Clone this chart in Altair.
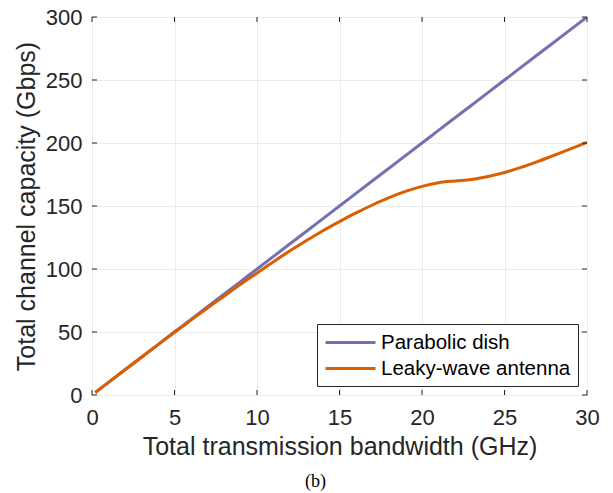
import altair as alt
import pandas as pd

bandwidth = [0.2, 1, 2, 3, 4, 5, 6, 7, 8, 9, 10, 11, 12, 13, 14, 15, 16, 17, 18, 19,
             20, 21, 22, 23, 24, 25, 26, 27, 28, 29, 30]
parabolic = [2, 10, 20, 30, 40, 50, 60, 70, 80, 90, 100, 110, 120, 130, 140, 150, 160, 170,
             180, 190, 200, 210, 220, 230, 240, 250, 260, 270, 280, 290, 300]
leaky = [2, 10, 20, 30, 40, 49.8, 59.4, 69, 78.4, 87.8, 96.8, 105.8, 114.4, 122.6, 130.4,
         137.6, 144.5, 150.8, 156.6, 161.6, 165.6, 168.5, 169.9, 171.0, 173.4, 176.6,
         180.6, 185.2, 190.2, 195.3, 200.5]
series_names = ["Parabolic dish", "Leaky-wave antenna"]
series_colors = ["#7570b3", "#d95f02"]
x_ticks = [0, 5, 10, 15, 20, 25, 30]
y_ticks = [0, 50, 100, 150, 200, 250, 300]

df = pd.concat([
    pd.DataFrame({"x": bandwidth, "y": parabolic, "series": series_names[0]}),
    pd.DataFrame({"x": bandwidth, "y": leaky, "series": series_names[1]}),
])
xt = pd.DataFrame({"tx": x_ticks})
yt = pd.DataFrame({"ty": y_ticks})

W, H = 495, 378
TL = 5
FONT = "Liberation Sans"
TXT = "#262626"

xscale = alt.Scale(domain=[0, 30], nice=False, zero=False)
yscale = alt.Scale(domain=[0, 300], nice=False, zero=False)

lines = alt.Chart(df).mark_line(strokeWidth=3, clip=True, interpolate="monotone").encode(
    x=alt.X("x:Q", scale=xscale,
            axis=alt.Axis(values=x_ticks, title="Total transmission bandwidth (GHz)",
                          grid=True, gridColor="#ebebeb", gridWidth=1, labelFlush=False,
                          ticks=False, domain=False, labelFont=FONT, labelFontSize=22,
                          labelColor=TXT, labelPadding=12, titleFont=FONT,
                          titleFontSize=25, titleFontWeight="normal", titleColor=TXT,
                          titlePadding=6)),
    y=alt.Y("y:Q", scale=yscale,
            axis=alt.Axis(values=y_ticks, title="Total channel capacity (Gbps)",
                          grid=True, gridColor="#ebebeb", gridWidth=1, labelFlush=False,
                          ticks=False, domain=False, labelFont=FONT, labelFontSize=22,
                          labelColor=TXT, labelPadding=10, titleFont=FONT,
                          titleFontSize=25, titleFontWeight="normal", titleColor=TXT,
                          titlePadding=6)),
    color=alt.Color("series:N",
                    scale=alt.Scale(domain=series_names, range=series_colors),
                    sort=series_names,
                    legend=alt.Legend(title=None, orient="none", legendX=225, legendY=307,
                                      fillColor="white", strokeColor=TXT, padding=7,
                                      symbolType="M-1,0H4", symbolSize=400,
                                      symbolStrokeWidth=3, labelFont=FONT,
                                      labelFontSize=20.5, labelColor="black",
                                      labelLimit=400, rowPadding=4, labelOffset=34,
                                      cornerRadius=0)),
)

rule_style = dict(color=TXT, strokeWidth=1)
tick_bottom = alt.Chart(xt).mark_rule(**rule_style).encode(
    x=alt.X("tx:Q", scale=xscale, axis=None), y=alt.value(H), y2=alt.value(H - TL))
tick_top = alt.Chart(xt).mark_rule(**rule_style).encode(
    x=alt.X("tx:Q", scale=xscale, axis=None), y=alt.value(0), y2=alt.value(TL))
tick_left = alt.Chart(yt).mark_rule(**rule_style).encode(
    y=alt.Y("ty:Q", scale=yscale, axis=None), x=alt.value(0), x2=alt.value(TL))
tick_right = alt.Chart(yt).mark_rule(**rule_style).encode(
    y=alt.Y("ty:Q", scale=yscale, axis=None), x=alt.value(W), x2=alt.value(W - TL))

chart = alt.layer(lines, tick_bottom, tick_top, tick_left, tick_right).resolve_axis(
    x="independent", y="independent"
).properties(
    width=W, height=H,
    autosize=alt.AutoSizeParams(type="none"),
    padding={"left": 92, "top": 17, "right": 26, "bottom": 98},
    title=alt.TitleParams("(b)", orient="bottom", font="Liberation Serif", fontSize=18,
                          fontWeight="normal", color="black", anchor="middle", dx=-24,
                          offset=14),
).configure_view(stroke=TXT, strokeWidth=1)

chart.save("out.html", embed_options={"renderer": "svg", "actions": False})
